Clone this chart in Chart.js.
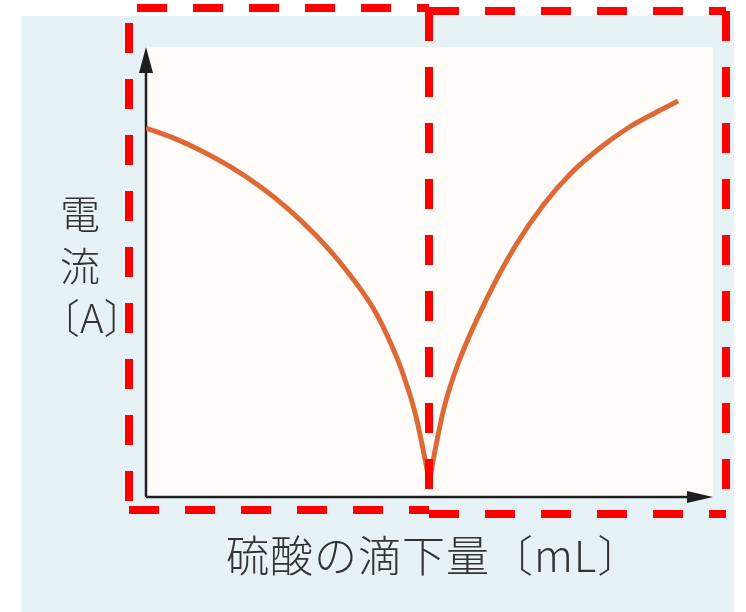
<!DOCTYPE html>
<html>
<head>
<meta charset="utf-8">
<script src="https://cdn.jsdelivr.net/npm/chart.js@4.4.1/dist/chart.umd.min.js"></script>
<style>
  html, body { margin: 0; padding: 0; background: #fff; }
  #wrap { position: relative; width: 746px; height: 612px; }
  #myChart { position: absolute; left: 0; top: 0; }
  .lbl { position: absolute; font-family: "Noto Sans CJK JP", sans-serif; color: #333; font-weight: 300; white-space: nowrap; }
  #ylab { left: 40px; top: 186px; width: 80px; text-align: center; font-size: 40px; line-height: 52px; }
  #xlab { left: 226px; top: 526px; font-size: 43px; line-height: 54px; letter-spacing: 1px; }
</style>
</head>
<body>
<div id="wrap">
  <canvas id="myChart" width="746" height="612"></canvas>
  <div class="lbl" id="ylab">電<br>流<br>〔A〕</div>
  <div class="lbl" id="xlab">硫酸の滴下量〔mL〕</div>
</div>
<script>
// values (x: mL, y: current, arbitrary units)
const leftX  = [0, 1, 2, 3, 4, 5, 6, 7, 8, 8.5, 9, 9.5, 10];
const leftY  = [8.2, 7.97, 7.68, 7.33, 6.91, 6.41, 5.81, 5.09, 4.21, 3.6, 2.85, 1.85, 0.35];
const rightX = [10, 10.2, 10.5, 11, 12, 13, 14, 15, 16, 17, 18, 18.77];
const rightY = [0.35, 1.05, 1.95, 2.95, 4.38, 5.55, 6.48, 7.2, 7.75, 8.2, 8.55, 8.8];
const xMax = 20;
const yMax = 10;

const lineColor = '#dd6a36';

function toPoints(xs, ys) {
  return xs.map((x, i) => ({ x: x, y: ys[i] }));
}

const backdrop = {
  id: 'backdrop',
  beforeDraw(chart) {
    const c = chart.ctx;
    const a = chart.chartArea;
    c.save();
    c.fillStyle = '#ffffff';
    c.fillRect(0, 0, chart.width, chart.height);
    c.fillStyle = '#e6f2f5';
    c.fillRect(21, 16, 713, chart.height - 16);
    c.fillStyle = '#fffcf9';
    c.fillRect(a.left, a.top, a.right - a.left, a.bottom - a.top);
    c.restore();
  },
  beforeDatasetsDraw(chart) {
    const c = chart.ctx;
    const a = chart.chartArea;
    c.save();
    c.strokeStyle = '#1e1e1e';
    c.fillStyle = '#1e1e1e';
    c.lineWidth = 2.5;
    // y axis
    c.beginPath();
    c.moveTo(a.left, a.bottom);
    c.lineTo(a.left, a.top + 20);
    c.stroke();
    c.beginPath();
    c.moveTo(a.left, a.top);
    c.lineTo(a.left - 7, a.top + 26);
    c.lineTo(a.left + 7, a.top + 26);
    c.closePath();
    c.fill();
    // x axis
    c.beginPath();
    c.moveTo(a.left, a.bottom);
    c.lineTo(a.right - 20, a.bottom);
    c.stroke();
    c.beginPath();
    c.moveTo(a.right, a.bottom);
    c.lineTo(a.right - 26, a.bottom - 6);
    c.lineTo(a.right - 26, a.bottom + 6);
    c.closePath();
    c.fill();
    c.restore();
  },
  afterDraw(chart) {
    const c = chart.ctx;
    c.save();
    c.strokeStyle = '#ff0000';
    c.lineWidth = 8;
    c.setLineDash([30, 26]);
    // left box
    c.lineDashOffset = -8;
    c.beginPath();
    c.moveTo(129, 8); c.lineTo(429, 8);
    c.stroke();
    c.lineDashOffset = -15;
    c.beginPath();
    c.moveTo(129, 8); c.lineTo(129, 510);
    c.stroke();
    c.lineDashOffset = 0;
    c.beginPath();
    c.moveTo(129, 510); c.lineTo(429, 510);
    c.stroke();
    // right box
    c.beginPath();
    c.moveTo(429, 11); c.lineTo(429, 514);
    c.stroke();
    c.beginPath();
    c.moveTo(429, 11); c.lineTo(726, 11);
    c.stroke();
    c.beginPath();
    c.moveTo(726, 11); c.lineTo(726, 514);
    c.stroke();
    c.beginPath();
    c.moveTo(429, 514); c.lineTo(726, 514);
    c.stroke();
    c.restore();
  }
};

const ctx = document.getElementById('myChart').getContext('2d');
const myChart = new Chart(ctx, {
  type: 'scatter',
  data: {
    datasets: [
      {
        label: 'left',
        data: toPoints(leftX, leftY),
        showLine: true,
        borderColor: lineColor,
        borderWidth: 5,
        pointRadius: 0,
        cubicInterpolationMode: 'monotone'
      },
      {
        label: 'right',
        data: toPoints(rightX, rightY),
        showLine: true,
        borderColor: lineColor,
        borderWidth: 5,
        pointRadius: 0,
        cubicInterpolationMode: 'monotone'
      }
    ]
  },
  options: {
    responsive: false,
    animation: false,
    layout: { padding: { left: 146, right: 33, top: 47, bottom: 115 } },
    plugins: {
      legend: { display: false },
      tooltip: { enabled: false }
    },
    scales: {
      x: { type: 'linear', min: 0, max: xMax, display: false },
      y: { type: 'linear', min: 0, max: yMax, display: false }
    }
  },
  plugins: [backdrop]
});
</script>
</body>
</html>
